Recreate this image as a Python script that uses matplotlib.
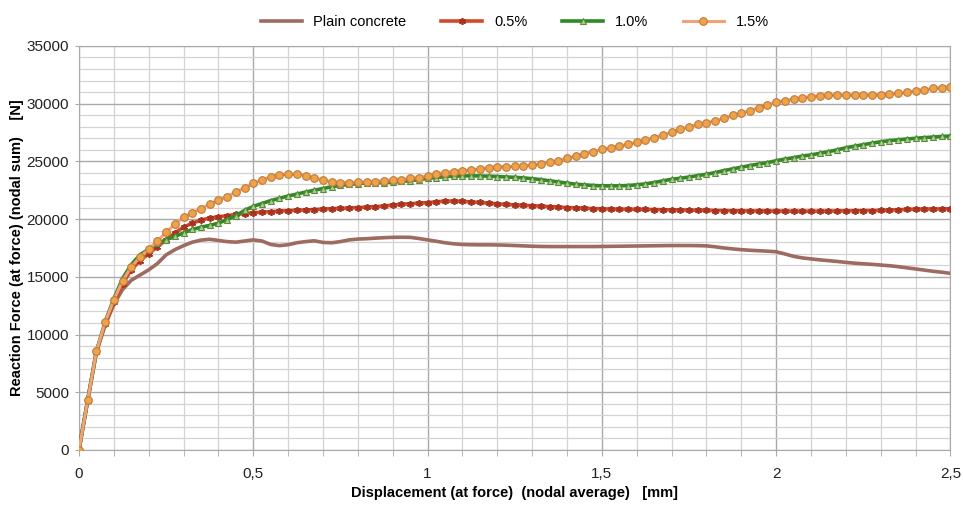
import numpy as np
import matplotlib
matplotlib.use("Agg")
import matplotlib.pyplot as plt
from matplotlib.ticker import MultipleLocator, FuncFormatter

plt.rcParams["font.family"] = ["Liberation Sans", "DejaVu Sans"]

# displacement steps of 0.025 mm (one per marker)
displacement = np.linspace(0, 2.5, 101)

plain = [
    0, 4300, 8500, 10800, 12600, 13900, 14700, 15150, 15600, 16150,
    16900, 17350, 17700, 18000, 18180, 18250, 18150, 18050, 18000, 18100,
    18200, 18100, 17800, 17700, 17780, 17950, 18050, 18120, 17980, 17950,
    18050, 18200, 18270, 18300, 18350, 18390, 18420, 18430, 18420, 18320,
    18200, 18080, 17950, 17860, 17800, 17780, 17770, 17770, 17760, 17740,
    17710, 17680, 17650, 17630, 17620, 17620, 17620, 17620, 17620, 17620,
    17630, 17640, 17650, 17660, 17670, 17680, 17690, 17700, 17710, 17710,
    17710, 17700, 17680, 17600, 17500, 17420, 17350, 17300, 17260, 17220,
    17170, 16980, 16770, 16640, 16550, 16470, 16400, 16330, 16250, 16180,
    16130, 16080, 16020, 15960, 15880, 15780, 15680, 15580, 15480, 15400,
    15300,
]

fiber_05 = [
    0, 4300, 8500, 10900, 12800, 14400, 15600, 16400, 17000, 17600,
    18200, 18800, 19300, 19650, 19900, 20100, 20200, 20300, 20400, 20480,
    20550, 20600, 20640, 20690, 20730, 20770, 20790, 20830, 20870, 20900,
    20930, 20960, 21000, 21030, 21080, 21130, 21220, 21280, 21330, 21380,
    21430, 21500, 21560, 21560, 21530, 21490, 21440, 21380, 21320, 21270,
    21230, 21190, 21160, 21120, 21080, 21040, 21000, 20970, 20940, 20910,
    20890, 20870, 20860, 20860, 20850, 20840, 20830, 20810, 20800, 20790,
    20780, 20770, 20760, 20740, 20730, 20720, 20710, 20700, 20700, 20700,
    20690, 20690, 20680, 20680, 20680, 20680, 20690, 20700, 20710, 20720,
    20730, 20740, 20750, 20780, 20810, 20840, 20860, 20870, 20880, 20880,
    20890,
]

fiber_10 = [
    0, 4300, 8550, 11100, 13100, 14850, 16050, 16900, 17400, 17900,
    18200, 18500, 18800, 19100, 19300, 19450, 19650, 19950, 20300, 20750,
    21100, 21350, 21600, 21800, 22000, 22170, 22340, 22500, 22650, 22800,
    22920, 23000, 23080, 23130, 23160, 23170, 23200, 23260, 23330, 23420,
    23520, 23600, 23680, 23720, 23740, 23750, 23740, 23720, 23690, 23650,
    23620, 23570, 23500, 23420, 23320, 23220, 23120, 23020, 22970, 22910,
    22880, 22880, 22880, 22910, 22970, 23050, 23170, 23310, 23450, 23540,
    23640, 23770, 23880, 24030, 24200, 24350, 24490, 24640, 24770, 24890,
    25060, 25200, 25320, 25460, 25560, 25700, 25840, 26000, 26180, 26320,
    26450, 26580, 26700, 26790, 26870, 26940, 27000, 27060, 27110, 27160,
    27200,
]

fiber_15 = [
    0, 4300, 8550, 11050, 13000, 14650, 15850, 16700, 17400, 18100,
    18850, 19550, 20150, 20550, 20900, 21300, 21650, 21950, 22350, 22700,
    23100, 23400, 23650, 23850, 23900, 23880, 23770, 23550, 23400, 23220,
    23170, 23170, 23180, 23200, 23250, 23330, 23380, 23430, 23530, 23600,
    23740, 23900, 24030, 24120, 24200, 24270, 24350, 24450, 24520, 24550,
    24560, 24600, 24700, 24780, 24920, 25070, 25260, 25460, 25680, 25850,
    26040, 26190, 26330, 26480, 26650, 26850, 27060, 27290, 27520, 27780,
    28000, 28200, 28320, 28530, 28730, 28980, 29170, 29400, 29650, 29880,
    30120, 30270, 30400, 30520, 30620, 30700, 30740, 30750, 30750, 30750,
    30750, 30760, 30770, 30830, 30890, 30970, 31100, 31220, 31320, 31400,
    31460,
]

x_ticks = [0, 0.5, 1, 1.5, 2, 2.5]
y_ticks = [0, 5000, 10000, 15000, 20000, 25000, 30000, 35000]

fig = plt.figure(figsize=(9.63, 5.05), dpi=100)
ax = fig.add_axes([0.082, 0.109, 0.905, 0.8])

ax.plot(displacement, plain, color="#9e6b60", lw=2.6, label="Plain concrete", zorder=3)
ax.plot(displacement, fiber_05, color="#cf4a2a", lw=2.6, marker=(6, 2, 0), ms=5,
        mec="#a8321e", mew=1.2, label="0.5%", zorder=4)
ax.plot(displacement, fiber_10, color="#2f8a25", lw=2.6, marker="^", ms=4.5,
        mfc="#a9cf8f", mec="#5a8a3a", mew=0.8, label="1.0%", zorder=5)
ax.plot(displacement, fiber_15, color="#f3a277", lw=2.2, marker="o", ms=5.5,
        mfc="#eea24a", mec="#c07a3a", mew=0.8, label="1.5%", zorder=6)

ax.set_xlim(0, 2.5)
ax.set_ylim(0, 35000)
ax.set_xticks(x_ticks)
ax.set_yticks(y_ticks)
ax.xaxis.set_minor_locator(MultipleLocator(0.1))
ax.yaxis.set_minor_locator(MultipleLocator(1000))
ax.xaxis.set_major_formatter(FuncFormatter(lambda v, p: f"{v:g}".replace(".", ",")))

ax.grid(which="major", color="#a9a9a9", lw=1.0)
ax.grid(which="minor", color="#d3d3d3", lw=0.9)
ax.set_axisbelow(True)
ax.tick_params(which="both", length=4, color="#a9a9a9", labelsize=11,
               labelcolor="#222222")
ax.tick_params(axis="y", which="minor", length=0)
ax.tick_params(axis="y", which="major", length=3, pad=4)
ax.tick_params(axis="x", pad=8)
for s in ax.spines.values():
    s.set_color("#a9a9a9")

ax.set_xlabel("Displacement (at force)  (nodal average)   [mm]", fontsize=10.5,
              fontweight="bold", labelpad=4)
ax.set_ylabel("Reaction Force (at force) (nodal sum)    [N]", fontsize=10.5,
              fontweight="bold", labelpad=2)

ax.legend(loc="lower center", bbox_to_anchor=(0.5, 1.01), ncol=4, frameon=False,
          fontsize=10.5, handlelength=2.8, columnspacing=2.4)

fig.savefig("out.png", dpi=100)
